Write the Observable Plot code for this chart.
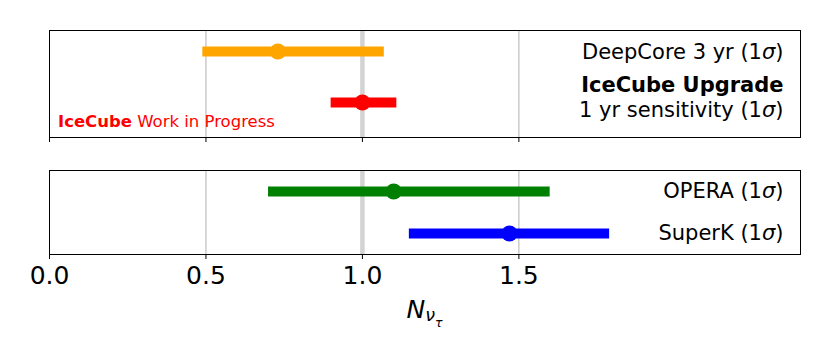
<!DOCTYPE html>
<html>
<head>
<meta charset="utf-8">
<script src="https://cdn.jsdelivr.net/npm/d3@7"></script>
<script src="https://cdn.jsdelivr.net/npm/@observablehq/plot@0.6"></script>
<style>
  html, body { margin: 0; padding: 0; background: #fff; }
  #chart { position: relative; width: 830px; height: 356px; font-family: "DejaVu Sans", sans-serif; }
  #chart svg { position: absolute; left: 0; }
</style>
</head>
<body>
<div id="chart"></div>
<script>
// ---- data ----
const experiments = ["DeepCore 3 yr (1σ)", "IceCube Upgrade\n1 yr sensitivity (1σ)", "OPERA (1σ)", "SuperK (1σ)"];
const panels      = ["top", "top", "bottom", "bottom"];
const central     = [0.73, 1.00, 1.10, 1.47];
const lower       = [0.49, 0.90, 0.70, 1.15];
const upper       = [1.07, 1.11, 1.60, 1.79];
const colors      = ["orange", "red", "green", "blue"];
const xTicks      = [0.0, 0.5, 1.0, 1.5];
const xDomain     = [0, 2.4];
const referenceValue = [1.0];
const watermarkBold = "IceCube";
const watermarkRest = " Work in Progress";
const boldHeading = "IceCube Upgrade";

const rows = experiments.map((name, i) => ({
  name, panel: panels[i], c: central[i], lo: lower[i], hi: upper[i], color: colors[i]
}));
const topRows = rows.filter(d => d.panel === "top");
const bottomRows = rows.filter(d => d.panel === "bottom");

const common = {
  width: 830,
  marginLeft: 49,
  marginRight: 30,
  style: { fontFamily: "DejaVu Sans", background: "transparent", color: "black", overflow: "visible" },
  x: { domain: xDomain },
  color: { type: "identity" }
};

function panelMarks(data) {
  return [
    Plot.gridX({ ticks: xTicks, stroke: "#b0b0b0", strokeOpacity: 1, strokeWidth: 1 }),
    Plot.ruleX(referenceValue, { stroke: "#d3d3d3", strokeWidth: 4.5 }),
    Plot.ruleY(data, { y: "name", x1: "lo", x2: "hi", stroke: "color", strokeWidth: 10 }),
    Plot.dot(data, { y: "name", x: "c", r: 8, fill: "color", stroke: "none" })
  ];
}

const topPlot = Plot.plot({
  ...common,
  height: 142,
  marginTop: 30,
  marginBottom: 5,
  y: { type: "point", domain: topRows.map(d => d.name), range: [50.7, 101.7], padding: 0, axis: null },
  marks: [
    ...panelMarks(topRows),
    Plot.text(topRows.slice(0, 1), { y: "name", text: "name", frameAnchor: "right", textAnchor: "end", dx: -17, dy: 0.5, fontSize: 21, fill: "black" }),
    Plot.text(topRows.slice(1, 2), { y: "name", text: "name", frameAnchor: "right", textAnchor: "end", dx: -17, dy: -6, fontSize: 21, lineHeight: 1.19, fill: "black" }),
    Plot.text([watermarkBold + watermarkRest], { text: d => d, frameAnchor: "bottom-left", textAnchor: "start", lineAnchor: "bottom", dx: 8.5, dy: -11, fontSize: 16.5, fill: "red" }),
    Plot.frame({ stroke: "black", strokeWidth: 1 }),
    Plot.axisX({ ticks: xTicks, tickSize: 5, tickFormat: () => "", label: null })
  ]
});

const bottomPlot = Plot.plot({
  ...common,
  height: 214,
  marginTop: 28,
  marginBottom: 102,
  y: { type: "point", domain: bottomRows.map(d => d.name), padding: 0.5, axis: null },
  marks: [
    ...panelMarks(bottomRows),
    Plot.text(bottomRows, { y: "name", text: "name", frameAnchor: "right", textAnchor: "end", dx: -17, fontSize: 21, fill: "black" }),
    Plot.frame({ stroke: "black", strokeWidth: 1 }),
    Plot.axisX({ ticks: xTicks, tickSize: 5, tickPadding: 7, fontSize: 25, tickFormat: d3.format(".1f"), label: null })
  ]
});

const chart = document.getElementById("chart");
topPlot.style.top = "0px";
bottomPlot.style.top = "142px";
chart.appendChild(topPlot);
chart.appendChild(bottomPlot);

const NS = "http://www.w3.org/2000/svg";

// italic sigma (matplotlib mathtext)
function italicizeSigma(svg) {
  const walker = document.createTreeWalker(svg, NodeFilter.SHOW_TEXT);
  const nodes = [];
  while (walker.nextNode()) if (walker.currentNode.nodeValue.includes("σ")) nodes.push(walker.currentNode);
  nodes.forEach(n => {
    const parts = n.nodeValue.split("σ");
    const frag = document.createDocumentFragment();
    parts.forEach((p, i) => {
      if (i > 0) {
        const ts = document.createElementNS(NS, "tspan");
        ts.setAttribute("font-style", "italic");
        ts.textContent = "σ";
        frag.appendChild(ts);
      }
      if (p) frag.appendChild(document.createTextNode(p));
    });
    n.parentNode.replaceChild(frag, n);
  });
}

// bold heading line and bold "IceCube" in the watermark
function styleTexts(svg) {
  svg.querySelectorAll("text, tspan").forEach(el => {
    if (el.childNodes.length === 1 && el.firstChild.nodeType === 3) {
      const t = el.firstChild.nodeValue;
      if (t === boldHeading) el.setAttribute("font-weight", "bold");
      if (t === watermarkBold + watermarkRest) {
        el.textContent = "";
        const b = document.createElementNS(NS, "tspan");
        b.setAttribute("font-weight", "bold");
        b.textContent = watermarkBold;
        el.appendChild(b);
        el.appendChild(document.createTextNode(watermarkRest));
      }
    }
  });
}

[topPlot, bottomPlot].forEach(svg => { styleTexts(svg); italicizeSigma(svg); });

// x-axis label N_{ν_τ}
const sx = bottomPlot.scale("x");
const cx = (sx.apply(xDomain[0]) + sx.apply(xDomain[1])) / 2;
const lab = d3.select(bottomPlot).append("text")
  .attr("x", cx)
  .attr("y", 175.7)
  .attr("text-anchor", "middle")
  .attr("font-family", "DejaVu Sans")
  .attr("font-style", "italic")
  .attr("font-size", 25)
  .attr("fill", "black");
lab.append("tspan").text("N");
lab.append("tspan").attr("font-size", 17.5).attr("dy", 3.5).text("ν");
lab.append("tspan").attr("font-size", 12.5).attr("dy", 5.5).text("τ");
</script>
</body>
</html>
